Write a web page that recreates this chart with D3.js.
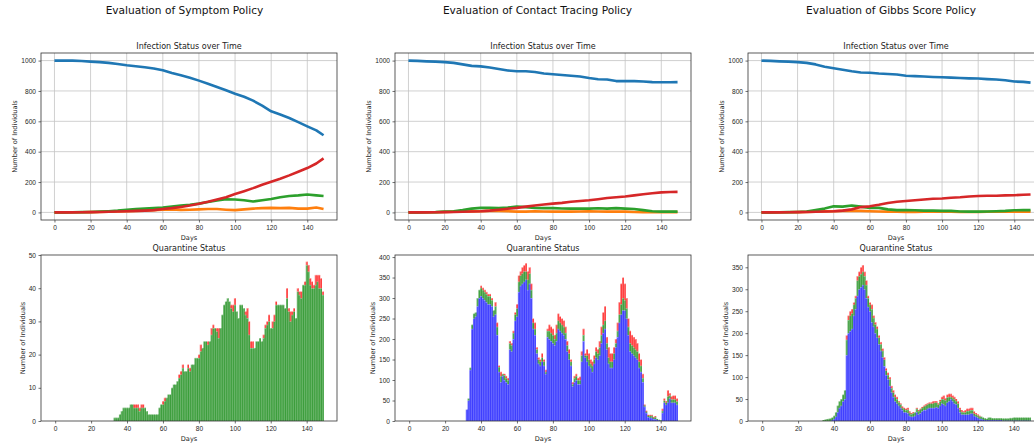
<!DOCTYPE html>
<html>
<head>
<meta charset="utf-8">
<script src="https://cdn.jsdelivr.net/npm/d3@7"></script>
<style>
body { margin: 0; background: #fff; }
svg { display: block; font-family: "DejaVu Sans", sans-serif; }
.tick line { stroke: #333; stroke-width: 0.7; }
.tick text { fill: #262626; font-size: 6.6px; }
</style>
</head>
<body>
<svg id="fig" width="1034" height="444"></svg>
<script>
// ---- data ----
var policies = ['Evaluation of Symptom Policy', 'Evaluation of Contact Tracing Policy', 'Evaluation of Gibbs Score Policy'];
var xTicks = [0, 20, 40, 60, 80, 100, 120, 140];
var lineDays = [0, 5, 10, 15, 20, 25, 30, 35, 40, 45, 50, 55, 60, 65, 70, 75, 80, 85, 90, 95, 100, 105, 110, 115, 120, 125, 130, 135, 140, 145, 149];

// symptom policy: susceptible, exposed, infected, recovered
var symS = [1000, 1000, 1000, 997, 993, 990, 985, 978, 969, 963, 956, 948, 936, 918, 903, 887, 868, 848, 826, 805, 782, 762, 736, 703, 666, 645, 622, 595, 567, 540, 508];
var symE = [0, 0, 1, 1, 2, 3, 4, 6, 8, 10, 12, 15, 18, 20, 17, 18, 20, 22, 22, 18, 15, 20, 25, 28, 30, 28, 30, 25, 25, 32, 22];
var symI = [0, 0, 1, 2, 3, 5, 8, 12, 18, 22, 25, 28, 32, 38, 45, 50, 58, 68, 78, 87, 85, 80, 72, 80, 88, 100, 108, 112, 118, 112, 108];
var symR = [0, 0, 0, 1, 2, 3, 4, 6, 8, 10, 12, 15, 22, 28, 36, 45, 57, 70, 85, 100, 121, 140, 160, 182, 202, 222, 244, 268, 292, 322, 356];

// contact tracing policy
var ctS = [1000, 998, 995, 993, 990, 985, 975, 965, 962, 955, 945, 935, 930, 930, 925, 915, 910, 905, 900, 895, 885, 877, 875, 865, 865, 865, 862, 858, 857, 857, 858];
var ctE = [0, 0, 1, 1, 3, 5, 6, 7, 8, 10, 10, 8, 5, 5, 8, 6, 5, 5, 5, 6, 8, 6, 5, 5, 5, 3, 2, 2, 2, 2, 2];
var ctI = [0, 0, 1, 2, 5, 8, 15, 25, 30, 30, 28, 32, 38, 35, 30, 28, 28, 26, 25, 25, 25, 27, 25, 28, 25, 22, 15, 8, 5, 5, 5];
var ctR = [0, 0, 0, 1, 2, 3, 4, 6, 8, 12, 18, 24, 30, 38, 45, 52, 58, 63, 70, 75, 80, 87, 95, 100, 105, 112, 120, 126, 132, 134, 135];

// gibbs score policy
var gbS = [1000, 998, 995, 993, 990, 985, 975, 960, 950, 940, 930, 922, 920, 915, 912, 908, 900, 898, 895, 892, 890, 888, 885, 883, 882, 878, 875, 870, 862, 860, 855];
var gbE = [0, 0, 1, 1, 2, 3, 5, 7, 8, 10, 10, 10, 8, 6, 5, 4, 3, 3, 4, 4, 5, 4, 3, 3, 3, 4, 4, 4, 5, 5, 5];
var gbI = [0, 0, 1, 2, 3, 6, 15, 25, 40, 38, 45, 38, 30, 30, 20, 15, 15, 14, 12, 12, 10, 10, 6, 5, 5, 6, 8, 10, 14, 15, 15];
var gbR = [0, 0, 0, 1, 2, 3, 4, 6, 8, 12, 20, 35, 40, 50, 62, 70, 75, 80, 85, 90, 92, 97, 100, 105, 108, 110, 110, 112, 113, 116, 118];

// quarantine bars, one value per day from the start day to day 149
var symQStart = 33;
var symQGreen = [1, 1, 1, 2, 3, 4, 4, 4, 4, 5,
    5, 4, 4, 4, 3, 4, 4, 4, 3, 2,
    2, 2, 2, 2, 2, 4, 5, 5, 6, 7,
    8, 8, 10, 11, 11, 12, 13, 14, 16, 15,
    15, 16, 15, 17, 17, 19, 19, 19, 21, 22,
    24, 24, 23, 24, 26, 28, 28, 27, 25, 28,
    32, 35, 36, 37, 36, 34, 33, 35, 33, 31,
    35, 35, 34, 32, 31, 26, 22, 22, 22, 24,
    24, 25, 24, 25, 28, 29, 30, 28, 28, 30,
    35, 35, 35, 35, 35, 34, 37, 33, 30, 32,
    33, 31, 39, 38, 37, 41, 41, 47, 45, 41,
    40, 40, 41, 42, 40, 40, 38];
var symQRed = [0, 0, 0, 0, 0, 0, 0, 0, 0, 0,
    0, 1, 1, 1, 1, 1, 1, 0, 0, 0,
    0, 0, 0, 0, 0, 0, 0, 1, 1, 0,
    0, 0, 0, 0, 0, 0, 1, 1, 1, 0,
    0, 1, 1, 0, 0, 0, 0, 1, 2, 0,
    0, 0, 1, 0, 2, 1, 0, 1, 3, 0,
    0, 0, 0, 0, 0, 1, 2, 2, 0, 0,
    0, 0, 0, 1, 3, 4, 2, 2, 0, 0,
    0, 0, 0, 1, 1, 1, 2, 0, 2, 2,
    1, 0, 0, 0, 0, 0, 3, 1, 3, 1,
    1, 0, 1, 1, 2, 0, 1, 1, 2, 2,
    2, 1, 3, 2, 4, 3, 1];

var ctQStart = 32;
var ctQBlue = [28, 50, 125, 225, 250, 255, 280, 300, 305, 300,
    295, 290, 285, 285, 280, 255, 260, 210, 120, 95,
    110, 100, 95, 90, 175, 170, 200, 245, 255, 315,
    330, 335, 340, 345, 320, 335, 300, 225, 210, 165,
    140, 135, 145, 135, 115, 205, 200, 195, 190, 185,
    195, 225, 220, 215, 210, 200, 170, 150, 135, 85,
    95, 100, 90, 90, 145, 195, 155, 145, 135, 130,
    120, 140, 155, 150, 160, 190, 215, 225, 175, 140,
    130, 130, 150, 180, 205, 240, 260, 270, 270, 250,
    210, 170, 165, 160, 155, 150, 130, 120, 95, 35,
    20, 10, 8, 8, 5, 5, 3, 2, 0, 20,
    45, 40, 45, 55, 45, 45, 45, 40];
var ctQGreen = [0, 5, 5, 10, 12, 10, 20, 20, 20, 20,
    20, 20, 20, 20, 15, 15, 20, 20, 12, 15,
    5, 12, 10, 10, 15, 15, 15, 15, 20, 25,
    25, 25, 25, 20, 25, 25, 20, 15, 15, 10,
    10, 10, 10, 10, 5, 15, 20, 20, 20, 15,
    20, 20, 20, 20, 20, 15, 15, 15, 10, 5,
    10, 10, 10, 10, 15, 15, 5, 15, 15, 10,
    15, 10, 15, 15, 20, 20, 20, 20, 15, 15,
    15, 15, 15, 10, 15, 20, 25, 30, 25, 25,
    20, 20, 20, 20, 20, 20, 15, 15, 10, 3,
    3, 3, 5, 5, 3, 5, 2, 1, 2, 5,
    5, 5, 15, 8, 8, 8, 8, 8];
var ctQRed = [0, 0, 0, 0, 0, 0, 0, 0, 5, 5,
    5, 5, 5, 5, 5, 0, 10, 10, 3, 10,
    0, 3, 5, 5, 5, 5, 5, 5, 10, 15,
    10, 15, 15, 20, 20, 15, 15, 10, 15, 5,
    5, 5, 10, 5, 5, 5, 15, 15, 15, 10,
    20, 17, 15, 15, 15, 15, 10, 10, 5, 5,
    5, 5, 5, 8, 10, 15, 5, 15, 15, 10,
    10, 10, 10, 10, 15, 20, 30, 35, 15, 25,
    20, 20, 15, 10, 20, 30, 50, 50, 40, 25,
    20, 30, 25, 25, 25, 20, 20, 15, 10, 2,
    2, 2, 2, 2, 2, 2, 0, 0, 0, 5,
    5, 3, 15, 5, 7, 9, 9, 7];

var gbQStart = 34;
var gbQBlue = [0, 0, 0, 0, 0, 2, 5, 10, 20, 30,
    35, 45, 50, 150, 200, 205, 210, 240, 255, 285,
    300, 305, 310, 300, 280, 260, 250, 225, 215, 200,
    190, 175, 160, 145, 125, 105, 95, 80, 65, 55,
    45, 40, 35, 30, 25, 20, 20, 18, 12, 10,
    10, 12, 20, 15, 18, 22, 25, 25, 28, 30,
    30, 30, 30, 32, 30, 35, 40, 38, 35, 42,
    45, 50, 45, 40, 38, 30, 20, 15, 15, 15,
    15, 15, 17, 17, 12, 10, 8, 5, 5, 3,
    2, 2, 2, 2, 2, 2, 2, 2, 2, 2,
    1, 1, 1, 1, 1, 1, 1, 1, 1, 1,
    1, 1, 1, 1, 1, 1];
var gbQGreen = [2, 3, 4, 5, 6, 6, 7, 10, 15, 15,
    15, 15, 20, 35, 30, 35, 35, 25, 25, 35,
    30, 30, 30, 30, 30, 20, 15, 30, 20, 20,
    20, 15, 15, 15, 15, 10, 10, 15, 10, 10,
    10, 10, 8, 8, 5, 8, 5, 8, 7, 6,
    8, 8, 8, 8, 8, 8, 8, 10, 10, 10,
    10, 10, 12, 10, 8, 10, 10, 12, 12, 12,
    10, 5, 8, 10, 8, 10, 6, 6, 5, 5,
    8, 8, 8, 8, 5, 5, 5, 5, 5, 5,
    4, 3, 6, 6, 4, 4, 4, 4, 4, 4,
    5, 5, 5, 5, 6, 6, 7, 7, 7, 7,
    7, 7, 7, 7, 7, 7];
var gbQRed = [0, 0, 0, 0, 0, 0, 0, 0, 0, 0,
    0, 0, 0, 10, 10, 10, 10, 5, 5, 10,
    10, 15, 15, 10, 10, 5, 5, 10, 5, 5,
    5, 5, 5, 5, 5, 5, 5, 5, 5, 5,
    5, 5, 2, 2, 3, 2, 3, 4, 3, 2,
    2, 0, 2, 2, 2, 2, 2, 3, 2, 2,
    2, 5, 3, 3, 2, 3, 5, 8, 5, 6,
    7, 7, 5, 5, 4, 5, 4, 4, 2, 5,
    5, 5, 5, 5, 5, 3, 2, 2, 0, 0,
    0, 0, 0, 0, 0, 0, 0, 0, 0, 0,
    0, 0, 0, 0, 0, 0, 0, 0, 0, 0,
    0, 0, 0, 0, 0, 0];

// ---- layout ----
var W = 296;
var topY = 53, topH = 167;
var botY = 255, botH = 166;
var lefts = [41, 395, 748];
var lineColors = ['#1f77b4', '#ff7f0e', '#2ca02c', '#d62728'];

var svg = d3.select('#fig');

function frame(g, h) {
    g.append('rect')
        .attr('width', W).attr('height', h)
        .attr('fill', 'none')
        .attr('stroke', '#333')
        .attr('stroke-width', 0.8);
}

function axes(g, x, y, h, yTicks) {
    var gx = g.append('g')
        .attr('transform', 'translate(0,' + h + ')')
        .call(d3.axisBottom(x).tickValues(xTicks).tickFormat(d3.format('d')).tickSize(2.5).tickPadding(3).tickSizeOuter(0));
    gx.select('.domain').remove();
    var gy = g.append('g')
        .call(d3.axisLeft(y).tickValues(yTicks).tickFormat(d3.format('d')).tickSize(2.5).tickPadding(2.5).tickSizeOuter(0));
    gy.select('.domain').remove();

    // labels follow the width of the y tick labels, like matplotlib does
    var tw = d3.max(gy.selectAll('text').nodes(), function (n) { return n.getComputedTextLength(); });
    g.append('text')
        .attr('transform', 'translate(' + (-tw - 9) + ',' + (h / 2) + ') rotate(-90)')
        .attr('text-anchor', 'middle')
        .attr('font-size', 6.6)
        .attr('fill', '#262626')
        .text('Number of Individuals');
    g.append('text')
        .attr('x', W / 2).attr('y', h + 19.5)
        .attr('text-anchor', 'middle')
        .attr('font-size', 6.6)
        .attr('fill', '#262626')
        .text('Days');
}

function title(g, txt) {
    g.append('text')
        .attr('x', W / 2).attr('y', -4.5)
        .attr('text-anchor', 'middle')
        .attr('font-size', 8)
        .attr('fill', '#222')
        .text(txt);
}

function linePanel(i, series) {
    var g = svg.append('g').attr('transform', 'translate(' + lefts[i] + ',' + topY + ')');
    var x = d3.scaleLinear().domain([-7.45, 156.45]).range([0, W]);
    var y = d3.scaleLinear().domain([-50, 1050]).range([topH, 0]);
    var yTicks = [0, 200, 400, 600, 800, 1000];

    g.append('g').selectAll('line').data(xTicks).enter().append('line')
        .attr('x1', function (d) { return x(d); }).attr('x2', function (d) { return x(d); })
        .attr('y1', 0).attr('y2', topH)
        .attr('stroke', '#c4c4c4').attr('stroke-width', 0.8);
    g.append('g').selectAll('line').data(yTicks).enter().append('line')
        .attr('y1', function (d) { return y(d); }).attr('y2', function (d) { return y(d); })
        .attr('x1', 0).attr('x2', W)
        .attr('stroke', '#c4c4c4').attr('stroke-width', 0.8);

    var line = d3.line()
        .x(function (d, k) { return x(lineDays[k]); })
        .y(function (d) { return y(d); });

    series.forEach(function (s, k) {
        g.append('path')
            .datum(s)
            .attr('d', line)
            .attr('fill', 'none')
            .attr('stroke', lineColors[k])
            .attr('stroke-width', 2.6)
            .attr('stroke-linejoin', 'round');
    });

    frame(g, topH);
    axes(g, x, y, topH, yTicks);
    title(g, 'Infection Status over Time');
}

function barPanel(i, start, stacks, yMax, yTicks) {
    var g = svg.append('g').attr('transform', 'translate(' + lefts[i] + ',' + botY + ')');
    var x = d3.scaleLinear().domain([-7.89, 156.89]).range([0, W]);
    var y = d3.scaleLinear().domain([0, yMax]).range([botH, 0]);
    var bw = x(1) - x(0);

    var n = stacks[0].vals.length;
    for (var j = 0; j < n; j++) {
        var base = 0;
        stacks.forEach(function (s) {
            var v = s.vals[j];
            if (v <= 0) return;
            var top = y(base + v), bot = y(base);
            // light body with a darker edge on one side, then a thin pale seam on top
            g.append('rect')
                .attr('x', x(start + j) - bw / 2)
                .attr('width', bw)
                .attr('y', top)
                .attr('height', bot - top)
                .attr('fill', s.color).attr('fill-opacity', 0.6);
            g.append('rect')
                .attr('x', x(start + j) + bw / 2 - 0.6)
                .attr('width', 0.6)
                .attr('y', top)
                .attr('height', bot - top)
                .attr('fill', s.color).attr('fill-opacity', 0.7);
            if (bot - top > 2) {
                g.append('rect')
                    .attr('x', x(start + j) - bw / 2)
                    .attr('width', bw)
                    .attr('y', top)
                    .attr('height', 0.5)
                    .attr('fill', '#fff').attr('fill-opacity', 0.6);
            }
            base += v;
        });
    }

    frame(g, botH);
    axes(g, x, y, botH, yTicks);
    title(g, 'Quarantine Status');
}

policies.forEach(function (p, i) {
    svg.append('text')
        .attr('x', [184.5, 537.5, 891][i]).attr('y', 14)
        .attr('text-anchor', 'middle')
        .attr('font-size', 10.6)
        .attr('fill', '#111')
        .text(p);
});

linePanel(0, [symS, symE, symI, symR]);
linePanel(1, [ctS, ctE, ctI, ctR]);
linePanel(2, [gbS, gbE, gbI, gbR]);

barPanel(0, symQStart, [{vals: symQGreen, color: '#008000'}, {vals: symQRed, color: '#ff0000'}], 50, [0, 10, 20, 30, 40, 50]);
barPanel(1, ctQStart, [{vals: ctQBlue, color: '#0000ff'}, {vals: ctQGreen, color: '#008000'}, {vals: ctQRed, color: '#ff0000'}], 405, [0, 50, 100, 150, 200, 250, 300, 350, 400]);
barPanel(2, gbQStart, [{vals: gbQBlue, color: '#0000ff'}, {vals: gbQGreen, color: '#008000'}, {vals: gbQRed, color: '#ff0000'}], 378, [0, 50, 100, 150, 200, 250, 300, 350]);
</script>
</body>
</html>
